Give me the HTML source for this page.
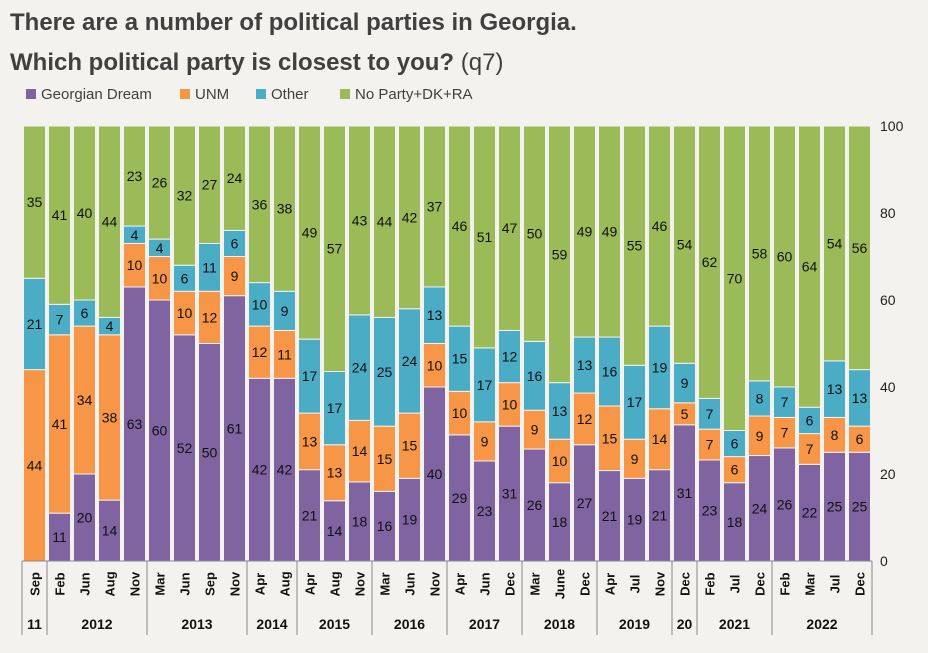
<!DOCTYPE html>
<html><head><meta charset="utf-8"><style>
body{margin:0;background:#f4f2ee;font-family:"Liberation Sans",sans-serif;}
svg text{font-family:"Liberation Sans",sans-serif;}
</style></head><body>
<svg id="c" width="928" height="648" viewBox="0 0 928 648" xmlns="http://www.w3.org/2000/svg">
<rect width="928" height="648" fill="#f4f2ee"/>
<text x="10" y="30" font-size="24" font-weight="bold" fill="#404040">There are a number of political parties in Georgia.</text>
<text x="10" y="70" font-size="24" font-weight="bold" fill="#404040">Which political party is closest to you? <tspan font-weight="normal">(q7)</tspan></text>
<g id="legend"></g>
<g id="bars"></g>
<g id="axes"></g>
</svg>
<script>
const months=["Sep","Feb","Jun","Aug","Nov","Mar","Jun","Sep","Nov","Apr","Aug","Apr","Aug","Nov","Mar","Jun","Nov","Apr","Jun","Dec","Mar","June","Dec","Apr","Jul","Nov","Dec","Feb","Jul","Dec","Feb","Mar","Jul","Dec"];
const years=[["11",1],["2012",4],["2013",4],["2014",2],["2015",3],["2016",3],["2017",3],["2018",3],["2019",3],["20",1],["2021",3],["2022",4]];
const gd=[0,11,20,14,63,60,52,50,61,42,42,21,14,18,16,19,40,29,23,31,26,18,27,21,19,21,31,23,18,24,26,22,25,25];
const unm=[44,41,34,38,10,10,10,12,9,12,11,13,13,14,15,15,10,10,9,10,9,10,12,15,9,14,5,7,6,9,7,7,8,6];
const other=[21,7,6,4,4,4,6,11,6,10,9,17,17,24,25,24,13,15,17,12,16,13,13,16,17,19,9,7,6,8,7,6,13,13];
const noparty=[35,41,40,44,23,26,32,27,24,36,38,49,57,43,44,42,37,46,51,47,50,59,49,49,55,46,54,62,70,58,60,64,54,56];
const yTicks=[0,20,40,60,80,100];
const seriesNames=["Georgian Dream","UNM","Other","No Party+DK+RA"];
const colors=["#8064a2","#f79646","#4bacc6","#9bbb59"];
const NS="http://www.w3.org/2000/svg";
const X0=22,PITCH=25,BW=22,Y0=561,YH=435;
const y=v=>Y0-v/100*YH;
const x=i=>X0+i*PITCH;
function mk(t,a,p){const e=document.createElementNS(NS,t);for(const k in a)e.setAttribute(k,a[k]);p.appendChild(e);return e;}
const bars=document.getElementById('bars'),axes=document.getElementById('axes'),leg=document.getElementById('legend');
const series=[gd,unm,other,noparty];
const segNames=["gd","unm","other","noparty"];
const lx=[26,180,256,340];
seriesNames.forEach((n,k)=>{
 const r=mk('rect',{x:lx[k],y:89,width:10,height:10,fill:colors[k]},leg);
 
 
 const t=mk('text',{x:lx[k]+15,y:99,'font-size':15,fill:'#404040'},leg);t.textContent=n;
 
 
});
months.forEach((m,i)=>{
 let cum=0;
 const total=series.reduce((a,s)=>a+s[i],0)||1;
 series.forEach((s,k)=>{
  const v=s[i]/total*100;
  const r=mk('rect',{x:x(i)+1.5,y:y(cum+v),width:BW,height:v/100*YH,fill:colors[k],stroke:'#f4f2ee','stroke-width':1},bars);
  
  
  if(s[i]>0){
   const t=mk('text',{x:x(i)+12.5,y:y(cum+v/2)+5,'font-size':14,'text-anchor':'middle',fill:'#111'},bars);
   t.textContent=s[i];
   
   
  }
  cum+=v;
 });
 const t=mk('text',{transform:`translate(${x(i)+17.5},584) rotate(-90)`,'font-size':13,'font-weight':'bold','text-anchor':'middle',fill:'#111'},axes);
 t.textContent=m;
 
 
});
mk('line',{x1:X0,x2:X0+34*PITCH,y1:Y0,y2:Y0,stroke:'#888','stroke-width':1},axes);
let idx=0;
const sep=i=>{const l=mk('line',{x1:x(i),x2:x(i),y1:Y0,y2:635,stroke:'#888','stroke-width':1},axes);};
sep(0);
years.forEach(([yr,n])=>{
 const t=mk('text',{x:x(idx)+n*PITCH/2,y:629,'font-size':14,'font-weight':'bold','text-anchor':'middle',fill:'#111'},axes);
 t.textContent=yr;
 
 
 idx+=n;sep(idx);
});
yTicks.forEach(v=>{
 const t=mk('text',{x:880,y:y(v)+5,'font-size':14,fill:'#222'},axes);
 t.textContent=v;
 
 
});
</script>
</body></html>
